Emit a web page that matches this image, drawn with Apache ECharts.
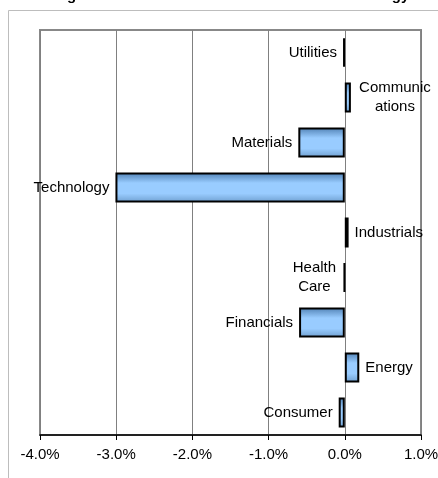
<!DOCTYPE html>
<html>
<head>
<meta charset="utf-8">
<script src="https://cdn.jsdelivr.net/npm/echarts@6/dist/echarts.min.js"></script>
<style>
  html, body { margin: 0; padding: 0; background: #fff; }
  #chart-container { width: 438px; height: 478px; }
</style>
</head>
<body>
<div id="chart-container"></div>
<script>
var dom = document.getElementById('chart-container');
var myChart = echarts.init(dom);

// sectors top to bottom
var sectors = ['Utilities', 'Communic\nations', 'Materials', 'Technology', 'Industrials',
  'Health\nCare', 'Financials', 'Energy', 'Consumer'];
// contribution in %
var contribution = [-0.02, 0.08, -0.61, -3.01, 0.05, -0.01, -0.60, 0.19, -0.08];
var xTicks = [-4, -3, -2, -1, 0, 1];

var barFill = new echarts.graphic.LinearGradient(0, 0, 0, 1, [
  { offset: 0, color: '#4f80b3' },
  { offset: 0.35, color: '#99ccff' },
  { offset: 0.7, color: '#99ccff' },
  { offset: 1, color: '#6f9fcf' }
]);

var seriesData = contribution.map(function (v, i) {
  var neg = v < 0;
  var item = {
    value: v,
    label: {
      show: true,
      position: neg ? 'left' : 'right',
      distance: 6,
      formatter: sectors[i]
    }
  };
  // two-line labels are centred line by line
  if (sectors[i].indexOf('\n') >= 0) {
    item.label.align = 'center';
    item.label.distance = neg ? 29 : 44;
  }
  return item;
});

var option = {
  animation: false,
  backgroundColor: '#fff',
  textStyle: { fontFamily: 'Liberation Sans, Arial, sans-serif' },
  title: {
    text: 'Manager - Sector Total Return Contribution - Strategy',
    left: 'center',
    top: -17,
    textStyle: { fontSize: 15, fontWeight: 'bold', color: '#000' }
  },
  graphic: [{
    type: 'rect',
    shape: { x: 8.5, y: 10.5, width: 440, height: 480 },
    style: { fill: 'none', stroke: '#bdbdbd', lineWidth: 1 },
    z: -1
  }],
  grid: {
    left: 40,
    right: 17,
    top: 30,
    bottom: 43,
    outerBoundsMode: 'none',
    show: true,
    borderColor: '#888',
    borderWidth: 2,
    backgroundColor: '#fff'
  },
  xAxis: {
    type: 'value',
    min: xTicks[0],
    max: xTicks[xTicks.length - 1],
    interval: 1,
    axisLine: { show: true, onZero: false, lineStyle: { color: '#000', width: 1.5 } },
    axisTick: { show: true, length: 5, lineStyle: { color: '#000' } },
    axisLabel: {
      color: '#000',
      fontSize: 15,
      margin: 12,
      formatter: function (v) { return v.toFixed(1) + '%'; }
    },
    splitLine: { show: true, lineStyle: { color: '#808080', width: 1 } }
  },
  yAxis: {
    type: 'category',
    inverse: true,
    data: sectors,
    axisLine: { show: false },
    axisTick: { show: false },
    axisLabel: { show: false }
  },
  series: [{
    type: 'bar',
    data: seriesData,
    barWidth: 30,
    itemStyle: {
      color: barFill,
      borderColor: '#000',
      borderWidth: 2
    },
    label: {
      color: '#000',
      fontSize: 15,
      lineHeight: 19
    }
  }]
};

myChart.setOption(option);
</script>
</body>
</html>
